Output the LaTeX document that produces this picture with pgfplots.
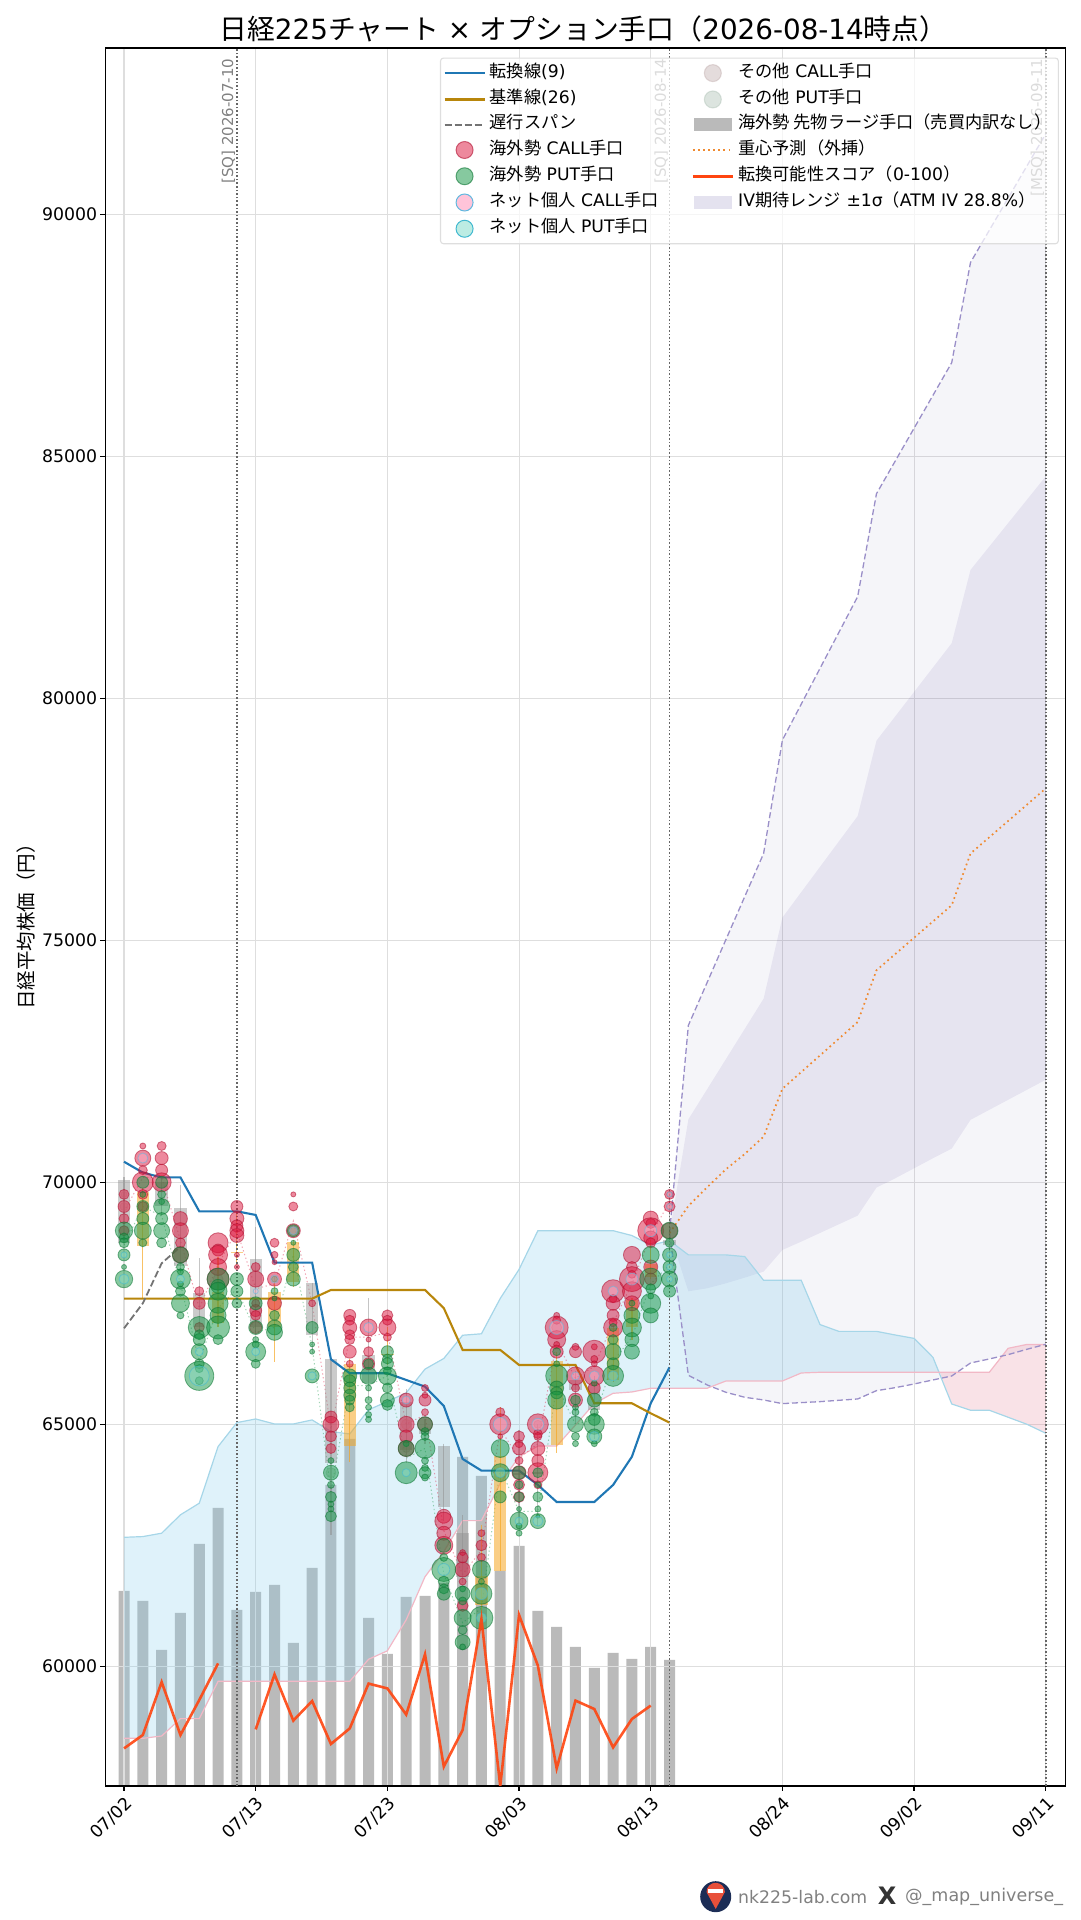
\documentclass[border=0pt]{standalone}
\usepackage{fontspec}
\usepackage{pgfplots}
\usepackage{pgfplotstable}
\pgfplotsset{compat=1.18}
\setmainfont{DejaVu Sans}
\newfontfamily\jp{Noto Sans CJK JP}
\newcommand{\fs}[1]{\fontsize{#1}{#1}\selectfont}
\definecolor{cCall}{HTML}{DC143C}
\definecolor{cPut}{HTML}{109341}
\definecolor{cRC}{HTML}{FFB6D0}
\definecolor{cRCe}{HTML}{60B8E0}
\definecolor{cRP}{HTML}{90E0D0}
\definecolor{cRPe}{HTML}{40B8D0}
\definecolor{cOC}{HTML}{BDA8A8}
\definecolor{cOP}{HTML}{A8BDB0}
\definecolor{cTen}{HTML}{1F77B4}
\definecolor{cKij}{HTML}{B8860B}
\definecolor{cScore}{HTML}{FF4510}
\definecolor{cIV}{HTML}{5B4F9F}
\definecolor{cIVd}{HTML}{9A8FC8}
\definecolor{cPred}{HTML}{F08A30}
\definecolor{cGrid}{HTML}{DEDEDE}
\definecolor{cKb}{HTML}{87CEEB}
\definecolor{cKbl}{HTML}{A6D6E8}
\definecolor{cKp}{HTML}{E88A9E}
\definecolor{cKpl}{HTML}{F2B8C6}
\definecolor{cBody}{HTML}{8C8C8C}
\definecolor{cOrange}{HTML}{F5A623}

\pgfplotstableread[row sep=\\]{
x y r\\
0 69750 5\\ 0 69500 6\\ 0 69250 5\\ 0 69000 5\\
1 70750 3\\ 1 70500 8\\ 1 70250 4.5\\ 1 70000 10.5\\ 1 69750 5\\ 1 69500 5\\
2 70750 4.5\\ 2 70500 6.5\\ 2 70250 6\\ 2 70000 9.5\\
3 69250 7\\ 3 69000 8\\ 3 68750 5\\ 3 68500 8\\
4 67750 4.5\\ 4 67500 6\\ 4 67000 5\\
5 68750 10\\ 5 68600 6\\ 5 68500 9.5\\ 5 68250 8.5\\ 5 68000 11\\
6 69500 6\\ 6 69250 7\\ 6 69100 6\\ 6 69000 7\\ 6 68900 7\\ 6 68500 2.5\\ 6 68250 2.5\\
7 68250 4.5\\ 7 68000 8\\ 7 67500 4\\ 7 67350 6\\ 7 67250 5\\ 7 67000 6\\
8 68750 4.5\\ 8 68500 3.5\\ 8 68350 2.5\\ 8 68000 7\\ 8 67500 7\\
9 69750 2.5\\ 9 69500 4.5\\ 9 69000 7\\
10 67500 3.5\\
11 65150 6\\ 11 65000 8\\ 11 64750 5.5\\ 11 64500 5\\
12 67250 6\\ 12 67150 5\\ 12 67000 7\\ 12 66850 5\\ 12 66750 5\\ 12 66500 6.5\\ 12 66250 3.5\\
13 67000 8.5\\ 13 66750 2.5\\ 13 66500 5\\ 13 66250 6\\
14 67250 5.5\\ 14 67150 5\\ 14 67000 8.5\\ 14 66800 4\\
15 65500 7\\ 15 65000 8\\ 15 64750 6.5\\ 15 64500 8\\
16 65750 3.5\\ 16 65600 3\\ 16 65500 6\\ 16 65250 3.5\\ 16 65000 7.5\\
17 63100 7\\ 17 63000 9\\ 17 62750 7\\ 17 62500 9\\
18 62350 3\\ 18 62250 5.5\\ 18 62000 7.5\\ 18 61750 3.5\\ 18 61250 5.5\\
19 62750 3.5\\ 19 62500 5.5\\ 19 62250 4\\
20 65250 4.5\\ 20 65000 10.5\\ 20 64750 2.5\\
21 64750 5.5\\ 21 64600 4\\ 21 64500 6.5\\ 21 64250 4\\ 21 64000 7\\ 21 63750 5.5\\ 21 63500 5.5\\
22 65000 10.5\\ 22 64800 4.5\\ 22 64750 4\\ 22 64500 7\\ 22 64250 6\\ 22 64000 10\\ 22 63750 4\\
23 67250 3\\ 23 67150 4\\ 23 67000 11.5\\ 23 66750 9\\ 23 66650 3\\ 23 66500 6.5\\
24 66600 3.5\\ 24 66500 6\\ 24 66000 9\\ 24 65750 4\\ 24 65500 7\\
25 66600 3\\ 25 66500 11.5\\ 25 66350 3.5\\ 25 66250 3\\ 25 66000 10\\ 25 65750 6\\
26 67750 11.5\\ 26 67600 4\\ 26 67500 7\\ 26 67250 6\\ 26 67100 4\\ 26 67000 9.5\\
27 68500 8.5\\ 27 68250 5.5\\ 27 68100 4\\ 27 68000 12.5\\ 27 67750 9.5\\ 27 67500 7.5\\
28 69250 7.5\\ 28 69150 5\\ 28 69000 13\\ 28 68850 7\\ 28 68750 5\\ 28 68250 7\\ 28 68000 6\\
29 69750 5\\ 29 69500 5.5\\ 29 69000 8\\
}\tFC
\pgfplotstableread[row sep=\\]{
x y r\\
0 69000 8.7\\ 0 68850 5\\ 0 68750 5\\ 0 68500 6\\ 0 68250 2.5\\ 0 68000 8.7\\
1 70000 6\\ 1 69750 3\\ 1 69500 6\\ 1 69250 6\\ 1 69000 8.5\\ 1 68750 4\\
2 70000 6\\ 2 69750 4\\ 2 69600 3\\ 2 69500 8\\ 2 69250 6\\ 2 69000 8\\ 2 68750 5\\
3 68500 8\\ 3 68250 4\\ 3 68150 3\\ 3 68000 10\\ 3 67900 3\\ 3 67750 5\\ 3 67500 9\\ 3 67250 3.5\\
4 67000 11\\ 4 66850 5\\ 4 66750 6\\ 4 66500 8\\ 4 66250 5\\ 4 66150 4\\ 4 66000 14.5\\ 4 65900 4\\
5 68000 11\\ 5 67850 7\\ 5 67750 9\\ 5 67500 10\\ 5 67250 8\\ 5 67000 11.5\\ 5 66750 5\\
6 68000 6.5\\ 6 67750 6\\ 6 67500 5\\
7 67500 6.5\\ 7 67000 7\\ 7 66750 3\\ 7 66650 3.5\\ 7 66500 10\\ 7 66250 4.5\\
8 68000 3\\ 8 67750 3.5\\ 8 67600 2.5\\ 8 67250 5\\ 8 67000 7.5\\ 8 66900 8\\
9 69000 6\\ 9 68750 2.5\\ 9 68500 6.5\\ 9 68250 5\\ 9 68000 7\\
10 67000 6\\ 10 66650 2.5\\ 10 66500 2.5\\ 10 66000 7\\
11 64250 3\\ 11 64000 7.5\\ 11 63750 3.5\\ 11 63500 5.5\\ 11 63350 3\\ 11 63250 3\\ 11 63100 5.5\\
12 66000 7\\ 12 65900 6\\ 12 65750 6\\ 12 65600 6\\ 12 65500 5\\ 12 65350 4.5\\
13 66250 5\\ 13 66000 8.5\\ 13 65750 3\\ 13 65500 3.5\\ 13 65350 3\\ 13 65200 3\\ 13 65100 3\\
14 66500 6\\ 14 66350 5\\ 14 66250 6\\ 14 66100 4\\ 14 66000 9\\ 14 65750 5\\ 14 65500 7\\ 14 65400 5.5\\
15 64600 3\\ 15 64500 8\\ 15 64000 11\\
16 65000 7.5\\ 16 64850 4\\ 16 64750 4\\ 16 64500 10\\ 16 64250 3.5\\ 16 64100 3.5\\ 16 64000 6\\ 16 63900 3.5\\
17 62500 7\\ 17 62250 4\\ 17 62000 12\\ 17 61750 5.5\\ 17 61600 5\\ 17 61500 6.5\\
18 61600 3\\ 18 61500 7.5\\ 18 61350 4\\ 18 61000 8.5\\ 18 60750 4.5\\ 18 60500 7.5\\ 18 60400 3\\
19 62000 9\\ 19 61750 3\\ 19 61500 10.5\\ 19 61000 11.5\\
20 64500 9\\ 20 64000 9\\ 20 63500 6\\
21 64000 6.5\\ 21 63750 4\\ 21 63500 5\\ 21 63250 2.5\\ 21 63000 9\\ 21 62900 3\\ 21 62750 3\\
22 64000 5\\ 22 63750 3\\ 22 63500 5\\ 22 63250 3\\ 22 63100 2\\ 22 63000 7.5\\
23 66500 4\\ 23 66250 3\\ 23 66000 11\\ 23 65750 7\\ 23 65650 6\\ 23 65500 9\\
24 65500 5\\ 24 65350 3\\ 24 65250 3.5\\ 24 65000 8\\ 24 64750 4\\ 24 64600 3\\
25 65850 3\\ 25 65500 7\\ 25 65250 4\\ 25 65100 6\\ 25 65000 10\\ 25 64750 7.5\\ 25 64600 3\\
26 67000 4\\ 26 66750 5\\ 26 66500 8\\ 26 66250 6\\ 26 66000 10.5\\
27 67500 3\\ 27 67250 8\\ 27 67000 9.5\\ 27 66750 7\\ 27 66500 7.5\\
28 68500 8.5\\ 28 68000 11\\ 28 67800 5\\ 28 67650 3\\ 28 67500 10\\ 28 67250 7.5\\
29 69000 8.5\\ 29 68750 4.5\\ 29 68500 7\\ 29 68250 6.5\\ 29 68000 8\\ 29 67750 6\\
}\tFP
\pgfplotstableread[row sep=\\]{
x y r\\
1 70500 5\\ 7 67750 2.5\\ 8 68000 4\\ 9 69000 4\\ 13 67000 5\\ 15 65500 4\\ 20 65000 7\\ 22 65000 6\\ 23 67000 7\\
24 66000 4\\ 25 66000 5\\ 26 67750 5\\ 27 68000 6\\ 28 69000 6\\ 29 69500 3\\ 29 69750 2.5\\
}\tRC
\pgfplotstableread[row sep=\\]{
x y r\\
0 68000 5\\ 0 68500 3\\ 3 68000 4\\ 4 66000 10\\ 4 66500 4\\ 7 66500 4\\ 10 66000 4\\ 15 64000 4\\ 17 62000 6\\
19 61500 6\\ 19 61000 5\\ 20 64000 5\\ 21 63000 4\\ 22 63000 5\\ 25 64750 5\\ 26 66000 5\\ 29 68500 3\\ 29 68250 3\\ 29 68000 3\\
}\tRP
\pgfplotstableread[row sep=\\]{
x y r\\
0 69500 4\\ 0 69750 3\\ 15 65000 5\\ 23 67000 5\\ 22 65000 4\\ 29 69750 3\\ 29 69500 3\\
}\tOC
\pgfplotstableread[row sep=\\]{
x y r\\
0 69000 5\\ 11 64000 5\\ 15 64500 4\\ 5 68000 5\\ 29 68750 3\\
}\tOP

\pgfplotsset{
  base/.style={
    scale only axis, width=960.3pt, height=1738pt,
    at={(105.4pt,134pt)}, anchor=south west,
    xmin=-0.99, xmax=50.06},
  nl/.style={forget plot},
  bub/.style n args={3}{nl, scatter, only marks, mark=*,
    visualization depends on={\thisrow{r}\as\rr},
    scatter/@pre marker code/.code={\scope[mark size=\rr, draw=#2, fill=#1, fill opacity=#3, draw opacity=.55, line width=.85pt]},
    scatter/@post marker code/.code={\endscope}},
  lgLine/.style={legend image code/.code={\draw[##1] (0pt,0pt) -- (40pt,0pt);}},
  lgDot/.style={legend image code/.code={\path[##1] (20pt,0pt) circle (8.5pt);}},
  lgArea/.style={legend image code/.code={\path[draw=none,sharp corners,##1] (1pt,-6pt) rectangle (39pt,7pt);}},
}

\begin{document}
\begin{tikzpicture}[x=1pt,y=1pt]
\useasboundingbox (0,0) rectangle (1080,1920);

% volume bars under everything
\begin{axis}[base, hide axis, ymin=0, ymax=1738]
\addplot[nl, ybar, bar width=11pt, bar shift=0pt, draw=none, fill=cBody, fill opacity=.6] coordinates {
(0,195)(1,185)(2,136)(3,173)(4,242)(5,278)(6,176)(7,194)(8,201)(9,143)
(10,218)(11,301)(12,347)(13,168)(14,132)(15,189)(16,190)(17,203)(18,329)(19,310)
(20,215)(21,240)(22,175)(23,159)(24,139)(25,118)(26,133)(27,127)(28,139)(29,126)};
\end{axis}

\begin{axis}[base, ymin=57527, ymax=93436,
  axis line style={black,line width=1.2pt},
  grid=major, grid style={cGrid,line width=1.1pt},
  tick style={black,line width=1.2pt}, major tick length=5pt, tick align=outside,
  xtick pos=bottom, ytick pos=left,
  scaled y ticks=false,
  xtick={0,7,14,21,28,35,42,49},
  xticklabels={07/02,07/13,07/23,08/03,08/13,08/24,09/02,09/11},
  ytick={60000,65000,70000,75000,80000,85000,90000},
  /pgf/number format/assume math mode=true,
  /pgf/number format/set thousands separator={},
  /pgf/number format/fixed,
  tick label style={font=\fs{17.3}},
  xticklabel style={rotate=45,anchor=north east,inner sep=3pt},
  yticklabel style={inner sep=3pt},
  ylabel={\jp 日経平均株価（円）},
  ylabel style={at={(axis description cs:-0.083,0.497)},anchor=center,font=\fs{19.5},rotate=0},
  title={{\jp 日経}225{\jp チャート} × {\jp オプション手口（}2026-08-14{\jp 時点）}},
  title style={at={(axis description cs:0.4977,1.0074)},anchor=center,yshift=0pt,font=\fs{27.8}},
  legend columns=2,
  legend cell align=left,
  legend style={at={(axis description cs:0.3484,0.9945)},anchor=north west,
    font=\fs{17.2},
    draw=black!13, line width=1.1pt, rounded corners=3pt,
    fill=white, fill opacity=.72, draw opacity=1, text opacity=1,
    inner xsep=3pt, inner ysep=6pt,
    nodes={text height=12pt,text depth=4pt,inner xsep=4pt,inner ysep=0pt},
    /tikz/column 2/.style={column sep=29pt},
    /tikz/row sep=8.25pt},
]
% IV ranges
\addplot[nl,draw=none,fill=cIV,fill opacity=.06] coordinates {
(29,68950)(30,73242)(34,76793)(35,79138)(39,82100)(40,84226)(44,86934)(45,89005)(49,91664)
(49,66653)(48,66550)(47,66440)(46,66350)(45,66267)(44,65998)(43,65916)(42,65833)(41,65757)(40,65695)
(39,65523)(38,65496)(37,65468)(36,65448)(35,65427)(34,65503)(33,65558)(32,65661)(31,65813)(30,66012)} -- cycle;
\addplot[nl,draw=none,fill=cIV,fill opacity=.1] coordinates {
(29,68950)(30,71300)(34,73794)(35,75470)(39,77566)(40,79124)(44,81138)(45,82652)(49,84586)
(49,72118)(45,71290)(44,70696)(43,70496)(42,70289)(41,70083)(40,69890)(39,69311)(38,69132)(37,68953)(36,68774)(35,68602)
(34,68154)(33,68030)(32,67913)(31,67810)(30,67748)} -- cycle;
% kumo
\addplot[nl,draw=none,fill=cKb,fill opacity=.27] coordinates {
(0,62665)(1,62680)(2,62750)(3,63130)(4,63370)(5,64540)(6,65035)(7,65110)(8,65007)(9,65007)(10,65090)
(11,64850)(12,64800)(13,65300)(14,65470)(15,65650)(16,66140)(17,66360)(18,66840)(19,66870)(20,67600)(21,68200)(22,69000)
(23,69000)(24,69000)(25,69000)(26,69000)(27,68900)(28,68700)(29,68795)(30,68500)(31,68500)(32,68500)(33,68465)(34,67975)(35,67975)(36,67975)
(37,67060)(38,66920)(39,66920)(40,66920)(41,66845)(42,66775)(43,66385)(43.37,66075)
(43,66075)(42,66075)(41,66075)(40,66075)(39,66075)(38,66075)(37,66075)(36,66060)(35,65895)(34,65895)(33,65895)(32,65895)(31,65745)(30,65745)(29,65745)(28,65744)(27,65668)(26,65640)
(25,65430)(24,64985)(23,64550)(22,64550)(21,64330)(20,63780)(19,63010)(18,63010)(17,62370)(16,61850)(15,60960)(14,60320)(13,60145)
(12,59690)(11,59690)(10,59690)(9,59690)(8,59690)(7,59690)(6,59690)(5,59690)(4,58919)(3,58919)(2,58560)(1,58512)(0,58512)} -- cycle;
\addplot[nl,draw=none,fill=cKp,fill opacity=.25] coordinates {
(43.37,66075)(44,66075)(45,66075)(46,66075)(47,66570)(48,66650)(49,66650)(49,64815)(48,65000)(47,65145)(46,65290)(45,65290)(44,65420)} -- cycle;
\addplot[nl,cKbl,line width=1.2pt] coordinates {
(0,62665)(1,62680)(2,62750)(3,63130)(4,63370)(5,64540)(6,65035)(7,65110)(8,65007)(9,65007)(10,65090)
(11,64850)(12,64800)(13,65300)(14,65470)(15,65650)(16,66140)(17,66360)(18,66840)(19,66870)(20,67600)(21,68200)(22,69000)
(23,69000)(24,69000)(25,69000)(26,69000)(27,68900)(28,68700)(29,68795)(30,68500)(31,68500)(32,68500)(33,68465)(34,67975)(35,67975)(36,67975)
(37,67060)(38,66920)(39,66920)(40,66920)(41,66845)(42,66775)(43,66385)(44,65420)(45,65290)(46,65290)(47,65145)(48,65000)(49,64815)};
\addplot[nl,cKpl,line width=1.2pt] coordinates {
(0,58512)(1,58512)(2,58560)(3,58919)(4,58919)(5,59690)(6,59690)(7,59690)(8,59690)(9,59690)(10,59690)(11,59690)(12,59690)(13,60145)(14,60320)(15,60960)
(16,61850)(17,62370)(18,63010)(19,63010)(20,63780)(21,64330)(22,64550)(23,64550)(24,64985)(25,65430)(26,65640)(27,65668)(28,65744)(29,65745)(30,65745)(31,65745)
(32,65895)(33,65895)(34,65895)(35,65895)(36,66060)(37,66075)(38,66075)(39,66075)(40,66075)(41,66075)(42,66075)(43,66075)(44,66075)(45,66075)(46,66075)(47,66570)(48,66650)(49,66650)};
% IV edges
\addplot[nl,cIVd,line width=1.3pt,dash pattern=on 6pt off 3pt] coordinates {
(29,68950)(30,73242)(34,76793)(35,79138)(39,82100)(40,84226)(44,86934)(45,89005)(49,91664)};
\addplot[nl,cIVd,line width=1.3pt,dash pattern=on 6pt off 3pt] coordinates {
(29,68950)(30,66012)(31,65813)(32,65661)(33,65558)(34,65503)(35,65427)(36,65448)(37,65468)(38,65496)(39,65523)(40,65695)(41,65757)(42,65833)(43,65916)(44,65998)(45,66267)(46,66350)(47,66440)(48,66550)(49,66653)};
\addplot[nl,cPred,line width=1.7pt,dash pattern=on 1.7pt off 3.4pt] coordinates {
(29,68950)(30,69510)(31,69897)(32,70270)(33,70585)(34,70943)(35,71932)(39,73311)(40,74380)(44,75724)(45,76793)(49,78138)};
% connectors
\addplot[nl,cCall,opacity=.4,line width=1pt,dash pattern=on 1.3pt off 2.6pt] coordinates {
(0,69400)(1,70100)(2,70100)(3,68800)(4,67400)(5,68300)(6,69000)(7,67800)(8,67900)(9,69200)(10,67500)(11,64900)(12,66800)(13,66800)(14,66900)(15,65000)(16,65200)(17,62800)(18,61900)(19,62400)(20,64900)(21,64300)(22,64600)(23,66700)(24,65950)(25,66200)(26,67100)(27,67900)(28,68900)(29,69600)};
\addplot[nl,cPut,opacity=.4,line width=1pt,dash pattern=on 1.3pt off 2.6pt] coordinates {
(0,68700)(1,69500)(2,69300)(3,67900)(4,66300)(5,67400)(6,67800)(7,66900)(8,67000)(9,68500)(10,66600)(11,63600)(12,65800)(13,65800)(14,66000)(15,64300)(16,64500)(17,61900)(18,60900)(19,61200)(20,64100)(21,63200)(22,63200)(23,65800)(24,65000)(25,65100)(26,66300)(27,66800)(28,67900)(29,68300)};
% bubbles
\addplot[bub={cOC}{cOC}{.4}] table[x=x,y=y]{\tOC};
\addplot[bub={cOP}{cOP}{.4}] table[x=x,y=y]{\tOP};
\addplot[bub={cCall}{cCall!80!black}{.5}] table[x=x,y=y]{\tFC};
\addplot[bub={cPut}{cPut!80!black}{.5}] table[x=x,y=y]{\tFP};
\addplot[bub={cRC}{cRCe}{.4}] table[x=x,y=y]{\tRC};
\addplot[bub={cRP}{cRPe}{.4}] table[x=x,y=y]{\tRP};
% candle wicks and bodies
\addplot[nl,cBody,opacity=.5,line width=1.2pt,unbounded coords=jump] coordinates {
(0,70100)(0,68740)(0,nan)(2,70100)(2,69300)(2,nan)(3,69945)(3,68120)(3,nan)(4,68430)(4,66880)(4,nan)(7,69084)(7,66880)(7,nan)
(10,67920)(10,66467)(10,nan)(11,66343)(11,62713)(11,nan)(13,67603)(13,65500)(13,nan)(15,65723)(15,64194)(15,nan)(16,65100)(16,64600)(16,nan)
(17,64600)(17,63000)(17,nan)(18,63127)(18,61715)(18,nan)(21,64883)(21,62955)(21,nan)(22,65000)(22,62900)(22,nan)(24,66100)(24,65000)(24,nan)
(25,66000)(25,64700)(25,nan)(29,69840)(29,68395)};
\addplot[nl,cOrange,opacity=.7,line width=1.2pt,unbounded coords=jump] coordinates {
(1,69876)(1,67596)(1,nan)(5,68464)(5,67018)(5,nan)(6,69360)(6,68290)(6,nan)(8,68050)(8,66295)(8,nan)(9,68800)(9,67844)(9,nan)
(12,66350)(12,64229)(12,nan)(14,67004)(14,66225)(14,nan)(19,62920)(19,61026)(19,nan)(20,65351)(20,61970)(20,nan)(23,66500)(23,64400)(23,nan)
(26,67050)(26,65880)(26,nan)(27,67600)(27,66742)(27,nan)(28,68808)(28,68000)};
\addplot[nl,cBody,opacity=.45,line width=12.3pt,unbounded coords=jump] coordinates {
(0,70050)(0,68740)(0,nan)(2,70000)(2,69500)(2,nan)(3,69463)(3,68278)(3,nan)(4,67707)(4,67018)(4,nan)(7,68416)(7,67018)(7,nan)
(10,67920)(10,66846)(10,nan)(11,66343)(11,64194)(11,nan)(13,66430)(13,65847)(13,nan)(15,65468)(15,64470)(15,nan)(16,64900)(16,64800)(16,nan)
(17,64552)(17,63300)(17,nan)(18,62755)(18,61853)(18,nan)(21,64000)(21,63960)(21,nan)(22,64020)(22,63980)(22,nan)(24,65916)(24,65709)(24,nan)
(25,65800)(25,65300)(25,nan)(29,68800)(29,68700)};
\addplot[nl,cOrange,opacity=.55,line width=12.3pt,unbounded coords=jump] coordinates {
(1,69807)(1,68690)(1,nan)(5,67741)(5,67087)(5,nan)(6,68570)(6,68540)(6,nan)(8,67741)(8,67018)(8,nan)(9,68767)(9,67948)(9,nan)
(12,66246)(12,64552)(12,nan)(14,66460)(14,66430)(14,nan)(19,61866)(19,61267)(19,nan)(20,64346)(20,61970)(20,nan)(23,66309)(23,64573)(23,nan)
(26,66983)(26,65916)(26,nan)(27,67569)(27,67018)(27,nan)(28,68306)(28,68051)};
% ichimoku lines
\addplot[nl,cTen,line width=2.1pt] coordinates {
(0,70425)(1,70200)(2,70100)(3,70100)(4,69400)(5,69400)(6,69400)(7,69325)(8,68340)(9,68340)(10,68340)(11,66343)(12,66054)(13,66054)(14,66054)(15,65916)(16,65778)(17,65379)(18,64284)(19,64043)(20,64043)(21,64043)(22,63747)(23,63395)(24,63395)(25,63395)(26,63747)(27,64332)(28,65434)(29,66178)};
\addplot[nl,cKij,line width=2.1pt] coordinates {
(0,67596)(1,67596)(2,67596)(3,67596)(4,67596)(5,67596)(6,67596)(7,67596)(8,67596)(9,67596)(10,67596)(11,67775)(12,67775)(13,67775)(14,67775)(15,67775)(16,67775)(17,67400)(18,66536)(19,66536)(20,66536)(21,66226)(22,66226)(23,66226)(24,66226)(25,65434)(26,65434)(27,65434)(28,65227)(29,65034)};
\addplot[nl,black!55,line width=1.8pt,dash pattern=on 7pt off 3pt] coordinates {(0,66983)(1,67500)(2,68326)(3,68670)};
% SQ lines
\addplot[nl,black!60,line width=1.6pt,dash pattern=on 1.6pt off 2pt] coordinates {(6,57527)(6,93436)};
\addplot[nl,black!60,line width=1.6pt,dash pattern=on 1.6pt off 2pt] coordinates {(29,57527)(29,93436)};
\addplot[nl,black!60,line width=1.6pt,dash pattern=on 1.6pt off 2pt] coordinates {(49,57527)(49,93436)};
\node[rotate=90,anchor=south east,font=\fs{15},text=black!50,inner sep=1.5pt] at (axis cs:6,93250) {[SQ] 2026-07-10};
\node[rotate=90,anchor=south east,font=\fs{15},text=black!50,inner sep=1.5pt] at (axis cs:29,93250) {[SQ] 2026-08-14};
\node[rotate=90,anchor=south east,font=\fs{15},text=black!50,inner sep=1.5pt] at (axis cs:49,93250) {[MSQ] 2026-09-11};
% legend, row by row
\addlegendimage{lgLine,cTen,line width=2.1pt}\addlegendentry{{\jp 転換線}(9)}
\addlegendimage{lgDot,draw=cOC,fill=cOC,opacity=.4}\addlegendentry{{\jp その他} CALL{\jp 手口}}
\addlegendimage{lgLine,cKij,line width=2.1pt}\addlegendentry{{\jp 基準線}(26)}
\addlegendimage{lgDot,draw=cOP,fill=cOP,opacity=.4}\addlegendentry{{\jp その他} PUT{\jp 手口}}
\addlegendimage{lgLine,black!55,line width=1.8pt,dash pattern=on 7pt off 3pt}\addlegendentry{{\jp 遅行スパン}}
\addlegendimage{lgArea,fill=cBody,fill opacity=.6}\addlegendentry{{\jp 海外勢 先物ラージ手口（売買内訳なし）}}
\addlegendimage{lgDot,draw=cCall!80!black,fill=cCall,fill opacity=.5,draw opacity=.6,line width=1pt}\addlegendentry{{\jp 海外勢} CALL{\jp 手口}}
\addlegendimage{lgLine,cPred,line width=1.7pt,dash pattern=on 1.7pt off 3.4pt}\addlegendentry{{\jp 重心予測（外挿）}}
\addlegendimage{lgDot,draw=cPut!80!black,fill=cPut,fill opacity=.5,draw opacity=.6,line width=1pt}\addlegendentry{{\jp 海外勢} PUT{\jp 手口}}
\addlegendimage{lgLine,cScore,line width=2.8pt}\addlegendentry{{\jp 転換可能性スコア（}0-100{\jp ）}}
\addlegendimage{lgDot,draw=cRCe,fill=cRC,fill opacity=.8,line width=1pt}\addlegendentry{{\jp ネット個人} CALL{\jp 手口}}
\addlegendimage{lgArea,fill=cIV,fill opacity=.16}\addlegendentry{IV{\jp 期待レンジ} ±1σ{\jp （}ATM IV 28.8\%{\jp ）}}
\addlegendimage{lgDot,draw=cRPe,fill=cRP,fill opacity=.6,line width=1pt}\addlegendentry{{\jp ネット個人} PUT{\jp 手口}}
\addlegendimage{empty legend}\addlegendentry{}
\end{axis}

% score line on top
\begin{axis}[base, hide axis, ymin=0, ymax=869]
\addplot[nl,cScore,opacity=.9,line width=2.6pt,unbounded coords=jump] coordinates {
(0,18.8)(1,25.5)(2,52)(3,25.5)(4,43)(5,61.3)(6,nan)(7,28.3)(8,55.8)(9,32.7)(10,42.5)(11,21)(12,28.8)(13,51.2)(14,48.8)(15,35.7)(16,65.8)(17,9.7)(18,28)(19,83.5)(20,0)(21,85.5)(22,60.2)(23,8.8)(24,42.7)(25,38.5)(26,19.3)(27,33.5)(28,40.2)};
\end{axis}

% credit
\fill[fill={rgb,255:red,28;green,45;blue,86}] (715.7,23.3) circle (15.5);
\fill[fill={rgb,255:red,232;green,80;blue,58}] (706.5,28) arc (180:0:9.2) -- (715.7,11) -- cycle;
\fill[white] (708,27) rectangle (723.4,31);
\node[anchor=west,font=\fs{17.3},text=black!50,inner sep=0] at (738,23) {nk225-lab.com};
\node[anchor=center,font=\fs{24}\bfseries,text=black!80,inner sep=0] at (887,24) {X};
\node[anchor=west,font=\fs{17.5},text=black!50,inner sep=0] at (905,23) {@\_map\_universe\_};
\end{tikzpicture}
\end{document}
